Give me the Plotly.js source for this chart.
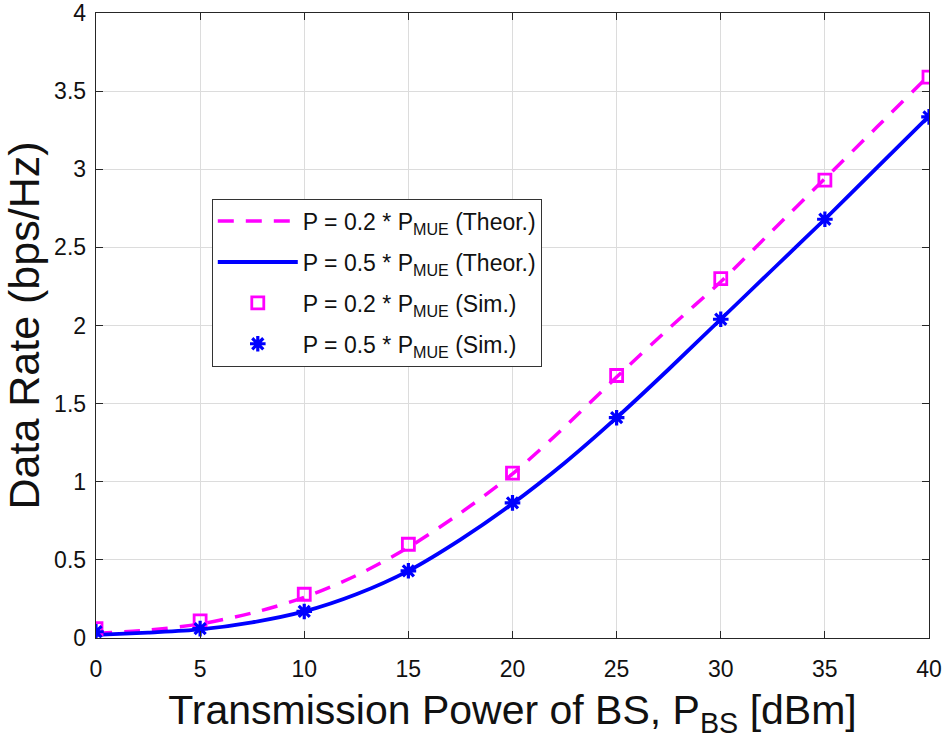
<!DOCTYPE html>
<html>
<head>
<meta charset="utf-8">
<script src="https://cdn.plot.ly/plotly-3.0.1.min.js"></script>
<style>html,body{margin:0;padding:0;background:#fff;}#chart{width:943px;height:750px;}</style>
</head>
<body>
<div id="chart"></div>
<script>
// Theoretical curves
const xTheor = [0, 2.5, 5, 7.5, 10, 12.5, 15, 17.5, 20, 22.5, 25, 27.5, 30, 32.5, 35, 37.5, 40];
const yTheor02 = [0.03, 0.05, 0.09, 0.16, 0.26, 0.40, 0.58, 0.80, 1.05, 1.35, 1.67, 1.98, 2.28, 2.61, 2.94, 3.27, 3.60];
const yTheor05 = [0.02, 0.035, 0.055, 0.10, 0.17, 0.28, 0.43, 0.63, 0.86, 1.12, 1.41, 1.72, 2.04, 2.36, 2.68, 3.01, 3.34];
// Simulation points
const xSim = [0, 5, 10, 15, 20, 25, 30, 35, 40];
const ySim02 = [0.06, 0.11, 0.28, 0.60, 1.055, 1.68, 2.30, 2.93, 3.59];
const ySim05 = [0.04, 0.06, 0.17, 0.43, 0.865, 1.41, 2.04, 2.68, 3.335];
const xTicks = [0, 5, 10, 15, 20, 25, 30, 35, 40];
const yTicks = [0, 0.5, 1, 1.5, 2, 2.5, 3, 3.5, 4];
const yTickText = ['0', '0.5', '1', '1.5', '2', '2.5', '3', '3.5', '4'];

const MAG = '#ff00ff', BLU = '#0000ff';
const FONT = 'Liberation Sans, Arial, sans-serif';
const traces = [
  {x: xTheor, y: yTheor02, type: 'scatter', mode: 'lines', name: 'P = 0.2 * P<sub>MUE</sub> (Theor.)', legendgroup: 'a',
   line: {color: MAG, width: 3.5, dash: '16px,12px', shape: 'spline', smoothing: 0.8}},
  {x: xTheor, y: yTheor05, type: 'scatter', mode: 'lines', name: 'P = 0.5 * P<sub>MUE</sub> (Theor.)', legendgroup: 'b',
   line: {color: BLU, width: 3.8, shape: 'spline', smoothing: 0.8}},
  {x: xSim, y: ySim02, type: 'scatter', mode: 'markers', name: 'P = 0.2 * P<sub>MUE</sub> (Sim.)', legendgroup: 'c',
   marker: {symbol: 'square-open', color: MAG, size: 12, line: {color: MAG, width: 2.8}}},
  {x: xSim, y: ySim05, type: 'scatter', mode: 'markers', name: 'P = 0.5 * P<sub>MUE</sub> (Sim.)', legendgroup: 'd',
   marker: {symbol: 'asterisk-open', color: BLU, size: 13, line: {color: BLU, width: 3.2}}}
];

const axisCommon = {
  showline: true, mirror: 'ticks', linecolor: '#262626', linewidth: 1.3,
  ticks: 'inside', ticklen: 7, tickcolor: '#262626', tickwidth: 1,
  showgrid: true, gridcolor: '#dcdcdc', gridwidth: 1, zeroline: false,
  ticklabeloverflow: 'allow',
  tickfont: {family: FONT, size: 23, color: '#111'}
};

const layout = {
  width: 943, height: 750,
  margin: {l: 96, r: 14, t: 13, b: 112},
  paper_bgcolor: '#fff', plot_bgcolor: '#fff',
  showlegend: true,
  xaxis: Object.assign({}, axisCommon, {
    range: [0, 40], tickmode: 'array', tickvals: xTicks, ticktext: xTicks.map(String),
    ticklabelstandoff: 10,
    title: {text: 'Transmission Power of BS, P<sub>BS</sub> [dBm]', standoff: 14,
            font: {family: FONT, size: 41, color: '#111'}}
  }),
  yaxis: Object.assign({}, axisCommon, {
    range: [0, 4], tickmode: 'array', tickvals: yTicks, ticktext: yTickText,
    ticklabelstandoff: 4,
    title: {text: 'Data Rate (bps/Hz)', standoff: 5,
            font: {family: FONT, size: 43, color: '#111'}}
  }),
  legend: {
    x: 0.139, y: 0.703, xanchor: 'left', yanchor: 'top',
    bgcolor: '#fff', bordercolor: '#333', borderwidth: 1,
    font: {family: FONT, size: 23, color: '#111'},
    tracegroupgap: 8, itemwidth: 80
  }
};

Plotly.newPlot('chart', traces, layout, {displayModeBar: false, staticPlot: true});
</script>
</body>
</html>
